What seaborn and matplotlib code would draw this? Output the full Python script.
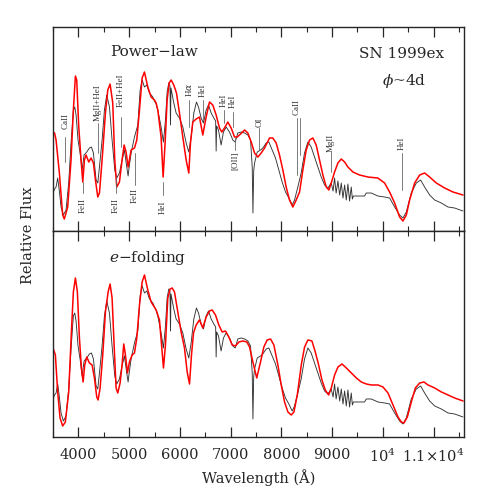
import numpy as np
import pandas as pd
import matplotlib
matplotlib.use("Agg")
import matplotlib.pyplot as plt
import seaborn as sns

# observed spectrum (same in both panels), wavelength in A, relative flux
obs_wave = [3500, 3530, 3560, 3592, 3625, 3658, 3704, 3756, 3809, 3855, 3901, 3928, 3954, 3993,
            4033, 4073, 4112, 4165, 4217, 4257, 4296, 4349, 4382, 4415, 4467, 4513, 4559, 4612,
            4664, 4717, 4756, 4809, 4861, 4907, 4953, 4980, 4993, 5039, 5105, 5171, 5217, 5256,
            5302, 5348, 5401, 5467, 5499, 5532, 5565, 5630, 5676, 5716, 5749, 5782, 5805, 5815,
            5825, 5880, 5926, 5992, 6058, 6124, 6176, 6222, 6275, 6327, 6367, 6419, 6465, 6518,
            6564, 6617, 6669, 6705, 6715, 6725, 6761, 6813, 6859, 6912, 6978, 7044, 7090, 7142,
            7208, 7275, 7340, 7393, 7426, 7440, 7455, 7472, 7525, 7590, 7635, 7701, 7754, 7819,
            7885, 7951, 8016, 8082, 8148, 8214, 8260, 8325, 8391, 8457, 8523, 8588, 8654, 8720,
            8786, 8852, 8918, 8983, 9020, 9049, 9080, 9115, 9150, 9181, 9215, 9247, 9280, 9312,
            9345, 9378, 9400, 9420, 9640, 9674, 9772, 9903, 10035, 10134, 10233, 10331, 10397,
            10463, 10561, 10660, 10745, 10824, 10923, 11022, 11153, 11285, 11416, 11580]
obs_flux = [0.38, 0.42, 0.44, 0.53, 0.40, 0.24, 0.16, 0.21, 0.48, 0.88, 1.21, 1.24, 1.16, 0.91,
            0.78, 0.61, 0.76, 0.79, 0.83, 0.84, 0.78, 0.51, 0.48, 0.64, 0.91, 1.21, 1.36, 1.24,
            0.91, 0.61, 0.53, 0.58, 0.71, 0.81, 0.64, 0.55, 0.61, 0.78, 0.94, 1.06, 1.41, 1.51,
            1.44, 1.46, 1.38, 1.34, 1.30, 1.27, 1.21, 1.04, 0.89, 1.11, 1.39, 1.48, 1.45, 1.06,
            1.43, 1.28, 1.18, 1.13, 1.04, 0.88, 0.79, 0.94, 1.18, 1.29, 1.24, 1.13, 1.08, 1.21,
            1.26, 1.18, 1.13, 1.10, 0.80, 1.05, 1.01, 0.86, 0.99, 1.04, 0.99, 0.91, 0.89, 0.98,
            0.99, 0.98, 0.96, 0.91, 0.64, 0.18, 0.60, 0.68, 0.79, 0.81, 0.83, 0.88, 0.89, 0.81,
            0.73, 0.61, 0.49, 0.39, 0.33, 0.26, 0.31, 0.44, 0.58, 0.78, 0.89, 0.84, 0.74, 0.64,
            0.54, 0.46, 0.43, 0.48, 0.40, 0.53, 0.38, 0.50, 0.36, 0.48, 0.33, 0.46, 0.31, 0.47,
            0.30, 0.44, 0.32, 0.35, 0.35, 0.38, 0.38, 0.35, 0.34, 0.33, 0.24, 0.16, 0.13,
            0.19, 0.38, 0.48, 0.51, 0.44, 0.36, 0.31, 0.28, 0.24, 0.23, 0.20]

# power-law model
pl_wave = [3500, 3530, 3560, 3625, 3690, 3723, 3789, 3855, 3901, 3941, 3967, 4007, 4053, 4086,
           4119, 4151, 4204, 4250, 4296, 4336, 4382, 4415, 4467, 4533, 4579, 4625, 4677, 4717,
           4756, 4809, 4861, 4901, 4940, 4980, 5039, 5105, 5151, 5204, 5256, 5302, 5368, 5434,
           5499, 5532, 5565, 5630, 5670, 5709, 5749, 5788, 5828, 5880, 5933, 5992, 6058, 6124,
           6176, 6209, 6255, 6321, 6386, 6452, 6518, 6584, 6649, 6715, 6781, 6827, 6879, 6945,
           7011, 7077, 7130, 7196, 7275, 7340, 7406, 7472, 7538, 7603, 7669, 7767, 7832, 7898,
           7964, 8030, 8095, 8161, 8227, 8293, 8359, 8424, 8490, 8556, 8622, 8687, 8753, 8819,
           8885, 8937, 8983, 9049, 9115, 9181, 9247, 9312, 9411, 9543, 9707, 9903, 10035, 10134,
           10233, 10331, 10397, 10463, 10529, 10627, 10726, 10824, 10923, 11055, 11219, 11383, 11580]
pl_flux = [0.99, 0.98, 0.91, 0.58, 0.16, 0.12, 0.24, 0.71, 1.21, 1.55, 1.51, 1.04, 0.71, 0.49,
           0.71, 0.76, 0.69, 0.73, 0.68, 0.51, 0.34, 0.38, 0.71, 1.18, 1.41, 1.47, 1.28, 0.71,
           0.44, 0.49, 0.71, 0.86, 0.79, 0.64, 0.81, 0.83, 0.91, 1.21, 1.53, 1.59, 1.44, 1.34,
           1.31, 1.28, 1.21, 0.94, 0.54, 0.88, 1.31, 1.48, 1.51, 1.46, 1.38, 1.18, 0.94, 0.71,
           0.58, 0.88, 1.09, 1.12, 1.14, 0.96, 1.14, 1.29, 1.26, 1.16, 1.03, 0.99, 1.03, 1.09,
           1.03, 0.94, 0.94, 0.97, 1.01, 0.98, 0.89, 0.78, 0.74, 0.78, 0.83, 0.93, 0.93, 0.88,
           0.76, 0.61, 0.44, 0.31, 0.24, 0.31, 0.39, 0.61, 0.81, 0.91, 0.93, 0.86, 0.71, 0.56,
           0.44, 0.41, 0.48, 0.59, 0.68, 0.72, 0.69, 0.64, 0.59, 0.56, 0.54, 0.53, 0.48, 0.39,
           0.28, 0.14, 0.10, 0.16, 0.31, 0.48, 0.56, 0.58, 0.54, 0.48, 0.43, 0.39, 0.36]

# e-folding model
ef_wave = [3500, 3546, 3592, 3638, 3690, 3743, 3809, 3862, 3901, 3941, 3980, 4020, 4060, 4093,
           4125, 4165, 4217, 4270, 4316, 4362, 4388, 4428, 4480, 4533, 4586, 4625, 4664, 4710,
           4743, 4776, 4822, 4861, 4894, 4927, 4967, 5006, 5059, 5105, 5151, 5204, 5256, 5302,
           5368, 5434, 5532, 5598, 5651, 5677, 5716, 5762, 5808, 5848, 5894, 5959, 6025, 6091,
           6144, 6190, 6229, 6269, 6321, 6386, 6452, 6518, 6584, 6636, 6702, 6768, 6833, 6899,
           6965, 7031, 7097, 7163, 7242, 7321, 7373, 7439, 7515, 7590, 7655, 7721, 7787, 7853,
           7932, 7998, 8063, 8129, 8195, 8248, 8314, 8393, 8458, 8524, 8603, 8669, 8735, 8800,
           8866, 8932, 8984, 9050, 9116, 9195, 9281, 9379, 9478, 9576, 9675, 9773, 9904, 10003,
           10102, 10200, 10299, 10365, 10417, 10483, 10562, 10641, 10727, 10812, 10891, 11022,
           11154, 11285, 11417, 11581]
ef_flux = [0.89, 0.82, 0.45, 0.19, 0.11, 0.15, 0.45, 1.05, 1.45, 1.59, 1.45, 0.99, 0.69, 0.55,
           0.72, 0.80, 0.74, 0.72, 0.59, 0.40, 0.37, 0.49, 0.82, 1.25, 1.45, 1.53, 1.39, 0.85,
           0.49, 0.44, 0.54, 0.72, 0.93, 0.82, 0.64, 0.75, 0.82, 0.84, 0.99, 1.32, 1.55, 1.62,
           1.47, 1.35, 1.27, 1.17, 0.85, 0.69, 0.92, 1.39, 1.48, 1.49, 1.45, 1.25, 1.05, 0.89,
           0.65, 0.53, 0.82, 1.04, 1.12, 1.17, 1.09, 1.20, 1.26, 1.27, 1.22, 1.12, 1.05, 1.06,
           1.00, 0.92, 0.91, 0.95, 0.96, 0.95, 0.90, 0.75, 0.59, 0.75, 0.90, 0.97, 0.98, 0.92,
           0.72, 0.52, 0.35, 0.25, 0.22, 0.25, 0.42, 0.72, 0.90, 0.97, 0.96, 0.85, 0.72, 0.57,
           0.47, 0.42, 0.49, 0.62, 0.70, 0.73, 0.69, 0.64, 0.59, 0.55, 0.53, 0.52, 0.52, 0.50,
           0.44, 0.32, 0.20, 0.15, 0.14, 0.20, 0.35, 0.49, 0.54, 0.55, 0.52, 0.49,
           0.45, 0.42, 0.39, 0.36]

# line identifications: label, wavelength of text, text height, tick from/to
id_labels = ["CaII", "FeII", "MgII+HeI", "FeII", "FeII+HeI", "FeII", "HeI", "H$\\alpha$", "HeI",
             "HeI", "HeI", "[OII]", "OI", "CaII", "MgII", "HeI"]
id_wave = [3745, 4082, 4380, 4743, 4841, 5120, 5663, 6176, 6452, 6860, 7050, 7090, 7569, 8300, 8969, 10376]
id_text_y = [1.10, 0.26, 1.28, 0.26, 1.41, 0.36, 0.24, 1.41, 1.41, 1.31, 1.30, 0.70, 1.09, 1.24, 0.88, 0.88]
id_line_lo = [0.69, 0.38, 0.78, 0.38, 0.84, 0.46, 0.36, 1.04, 1.11, 1.08, 1.04, 0.81, 0.81, 0.56, 0.59, 0.41]
id_line_hi = [0.94, 0.49, 1.08, 0.54, 1.14, 0.78, 0.49, 1.31, 1.31, 1.21, 1.19, 0.93, 1.03, 1.13, 0.79, 0.78]
# second CaII tick
caii_red_wave = 8358
caii_red_lo, caii_red_hi = 0.76, 1.13

tick_waves = [4000, 5000, 6000, 7000, 8000, 9000, 10000, 11000]
tick_labels = ["4000", "5000", "6000", "7000", "8000", "9000", "10$^4$", "1.1\u00d710$^4$"]

sns.set_style("ticks")
plt.rcParams["font.family"] = ["DejaVu Serif"]
plt.rcParams["mathtext.fontset"] = "dejavuserif"

obs = pd.DataFrame({"wave": obs_wave, "flux": obs_flux})
pl = pd.DataFrame({"wave": pl_wave, "flux": pl_flux})
ef = pd.DataFrame({"wave": ef_wave, "flux": ef_flux})

fig = plt.figure(figsize=(4.91, 4.91), dpi=100)
ax_top = fig.add_axes([0.108, 0.5295, 0.837, 0.4155])
ax_bot = fig.add_axes([0.108, 0.110, 0.837, 0.4196])

for ax, model, ymax in [(ax_top, pl, 2.04), (ax_bot, ef, 2.06)]:
    sns.lineplot(data=obs, x="wave", y="flux", ax=ax, color="#333333", linewidth=0.65,
                 sort=False, estimator=None)
    sns.lineplot(data=model, x="wave", y="flux", ax=ax, color="#ff0000", linewidth=1.1,
                 sort=False, estimator=None)
    ax.set_xlim(3500, 11600)
    ax.set_ylim(0, ymax)
    ax.set_xticks(tick_waves)
    ax.set_xticks(np.arange(3500, 11600, 500), minor=True)
    ax.tick_params(axis="x", which="both", direction="in", top=True, bottom=True)
    ax.tick_params(axis="x", which="major", length=7, width=0.9)
    ax.tick_params(axis="x", which="minor", length=3.5, width=0.8)
    ax.tick_params(axis="y", which="both", left=False, right=False, labelleft=False)
    ax.set_xlabel("")
    ax.set_ylabel("")
    for sp in ax.spines.values():
        sp.set_linewidth(1.0)

ax_top.tick_params(axis="x", labelbottom=False)
ax_bot.set_xticklabels(tick_labels, fontsize=10.5)
ax_bot.tick_params(axis="x", pad=8)
ax_bot.set_xlabel("Wavelength (\u00c5)", fontsize=10.5, labelpad=3)

# line identifications on the top panel
for lab, w, ty, lo, hi in zip(id_labels, id_wave, id_text_y, id_line_lo, id_line_hi):
    ax_top.plot([w, w], [lo, hi], color="#666666", linewidth=0.6)
    ax_top.text(w, ty, lab, rotation=90, ha="center", va="center", fontsize=6.5,
                family=["Liberation Serif", "DejaVu Serif"], color="#333333")
ax_top.plot([caii_red_wave, caii_red_wave], [caii_red_lo, caii_red_hi], color="#666666", linewidth=0.6)

ax_top.text(0.246, 0.877, "Power\u2212law", transform=ax_top.transAxes, fontsize=11,
            ha="center", va="center")
ax_top.text(0.847, 0.868, "SN 1999ex", transform=ax_top.transAxes, fontsize=11,
            ha="center", va="center")
ax_top.text(0.854, 0.735, "$\\phi$~4d", transform=ax_top.transAxes, fontsize=11,
            ha="center", va="center")
ax_bot.text(0.231, 0.869, "$e$\u2212folding", transform=ax_bot.transAxes, fontsize=11,
            ha="center", va="center")

fig.text(0.057, 0.52, "Relative Flux", rotation=90, fontsize=10.5, ha="center", va="center")

plt.savefig("out.png", dpi=100)
